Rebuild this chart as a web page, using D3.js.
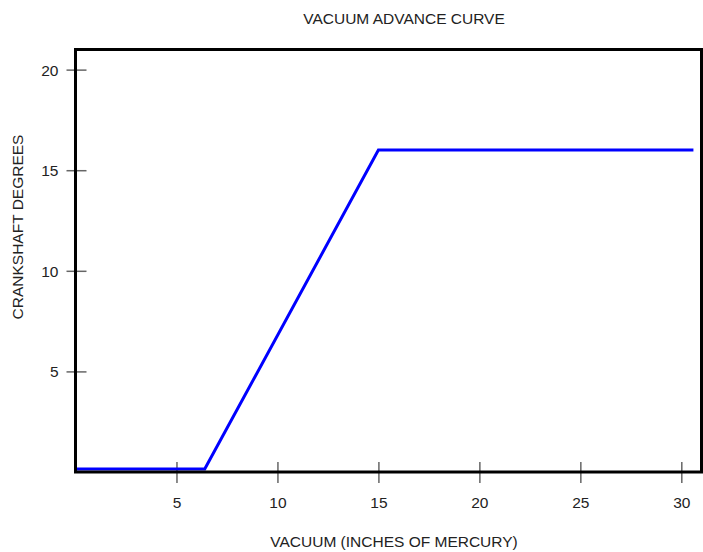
<!DOCTYPE html>
<html>
<head>
<meta charset="utf-8">
<script src="https://cdn.jsdelivr.net/npm/d3@7"></script>
<style>
  body { margin: 0; background: #fff; }
  text { font-family: "Liberation Sans", Arial, sans-serif; }
</style>
</head>
<body>
<div id="chart"></div>
<script>
// data
const vacuum = [0, 6.4, 15, 30.6];
const degrees = [0.15, 0.15, 16, 16];
const xTicks = [5, 10, 15, 20, 25, 30];
const yTicks = [5, 10, 15, 20];
const title = "VACUUM ADVANCE CURVE";
const xTitle = "VACUUM (INCHES OF MERCURY)";
const yTitle = "CRANKSHAFT DEGREES";

const width = 703, height = 552;
const plotLeft = 75.5, plotRight = 701.5, plotTop = 49.5, plotBottom = 472;
const fontSize = 15.5;

const svg = d3.select("#chart").append("svg")
    .attr("width", width).attr("height", height);

const x = d3.scaleLinear().domain([0, 31]).range([plotLeft, plotRight]);
const y = d3.scaleLinear().domain([0, 21]).range([plotBottom, plotTop]);

// x axis ticks cross the bottom frame line
const gx = svg.append("g")
    .attr("transform", `translate(0,${plotBottom})`)
    .call(d3.axisBottom(x).tickValues(xTicks).tickFormat(d3.format("d")).tickSize(0));
gx.select(".domain").remove();
gx.selectAll(".tick line")
    .attr("y1", -10).attr("y2", 11)
    .attr("stroke", "#666").attr("stroke-width", 1.5);
gx.selectAll(".tick text")
    .attr("y", 36).attr("dy", 0)
    .attr("font-size", fontSize).attr("fill", "#222")
    .style("font-family", "'Liberation Sans', Arial, sans-serif");

const gy = svg.append("g")
    .attr("transform", `translate(${plotLeft},0)`)
    .call(d3.axisLeft(y).tickValues(yTicks).tickFormat(d3.format("d")).tickSize(0));
gy.select(".domain").remove();
gy.selectAll(".tick line")
    .attr("x1", -9).attr("x2", 11)
    .attr("stroke", "#666").attr("stroke-width", 1.5);
gy.selectAll(".tick text")
    .attr("x", -17).attr("dy", "0.36em")
    .attr("font-size", fontSize).attr("fill", "#222")
    .style("font-family", "'Liberation Sans', Arial, sans-serif");

// curve
const line = d3.line()
    .x((d, i) => x(vacuum[i]))
    .y(d => y(d));
svg.append("path")
    .datum(degrees)
    .attr("d", line)
    .attr("fill", "none")
    .attr("stroke", "#0000ff")
    .attr("stroke-width", 3)
    .attr("stroke-linejoin", "miter");

// frame
svg.append("rect")
    .attr("x", plotLeft).attr("y", plotTop)
    .attr("width", plotRight - plotLeft).attr("height", plotBottom - plotTop)
    .attr("fill", "none").attr("stroke", "#000").attr("stroke-width", 3);

// titles
svg.append("text")
    .attr("x", 404).attr("y", 24)
    .attr("text-anchor", "middle")
    .attr("font-size", fontSize).attr("fill", "#222")
    .text(title);

svg.append("text")
    .attr("x", 394).attr("y", 547)
    .attr("text-anchor", "middle")
    .attr("font-size", fontSize).attr("fill", "#222")
    .text(xTitle);

svg.append("text")
    .attr("transform", `translate(23,227) rotate(-90)`)
    .attr("text-anchor", "middle")
    .attr("font-size", fontSize).attr("fill", "#222")
    .text(yTitle);
</script>
</body>
</html>
